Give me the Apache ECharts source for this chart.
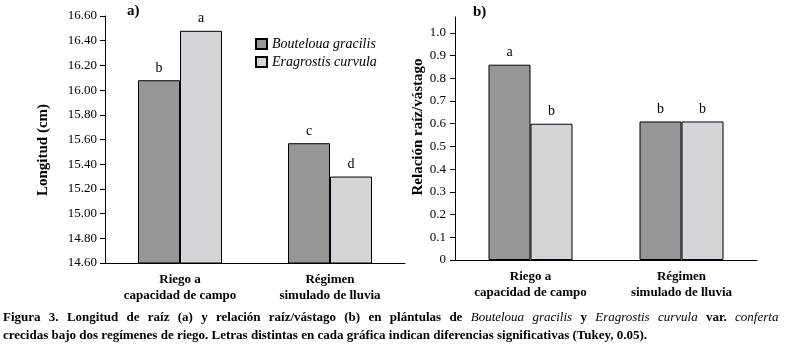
<!DOCTYPE html>
<html>
<head>
<meta charset="utf-8">
<script src="https://cdn.jsdelivr.net/npm/echarts@6/dist/echarts.min.js"></script>
<style>
  html, body { margin: 0; padding: 0; background: #fff; }
  #chart { width: 791px; height: 354px; }
</style>
</head>
<body>
<div id="chart"></div>
<script>
// categories (two irrigation regimes)
const categories = ['Riego a\ncapacidad de campo', 'Régimen\nsimulado de lluvia']
const speciesNames = ['Bouteloua gracilis', 'Eragrostis curvula']

// panel a) root length (cm)
const lengthBouteloua = [16.08, 15.57]
const lengthEragrostis = [16.48, 15.30]
const lettersLengthBouteloua = ['b', 'c']
const lettersLengthEragrostis = ['a', 'd']

// panel b) root/shoot ratio
const ratioBouteloua = [0.86, 0.61]
const ratioEragrostis = [0.60, 0.61]
const lettersRatioBouteloua = ['a', 'b']
const lettersRatioEragrostis = ['b', 'b']
const ratioTicks = [0, 0.1, 0.2, 0.3, 0.4, 0.5, 0.6, 0.7, 0.8, 0.9, 1.0]

const SERIF = '"Liberation Serif", "DejaVu Serif", serif'
const DARK = '#969696'
const LIGHT = '#d5d4d8'

const chart = echarts.init(document.getElementById('chart'))

const catAxis = (gridIndex) => ({
  type: 'category',
  gridIndex,
  data: categories,
  axisLine: { lineStyle: { color: '#000', width: 1 } },
  axisTick: { length: 5, lineStyle: { color: '#000' } },
  axisLabel: {
    color: '#000', fontFamily: SERIF, fontSize: 13, fontWeight: 'bold',
    lineHeight: 16, margin: 9, interval: 0,
  },
})

const barLabel = (letters) => ({
  show: true,
  position: 'top',
  distance: 5,
  color: '#000',
  fontFamily: SERIF,
  fontSize: 14,
  formatter: (p) => letters[p.dataIndex],
})

const bar = (name, data, axisIdx, color, letters) => ({
  name,
  type: 'bar',
  xAxisIndex: axisIdx,
  yAxisIndex: axisIdx,
  data,
  barWidth: 42,
  barGap: '0%',
  itemStyle: { color, borderColor: '#000', borderWidth: 1 },
  label: barLabel(letters),
  emphasis: { disabled: true },
})

// caption line 1 is justified in the original: widen the word spaces
const captionLine1 = [
  ['b', 'Figura 3. Longitud de raíz (a) y relación raíz/vástago (b) en plántulas de'],
  ['i', 'Bouteloua gracilis'],
  ['b', 'y'],
  ['i', 'Eragrostis curvula'],
  ['b', 'var.'],
  ['i', 'conferta'],
]
const captionRich1 = captionLine1
  .map(([s, txt]) => txt.split(' ').map((w) => `{${s}|${w}}`).join('{sp|}'))
  .join('{sp|}')

const option = {
  animation: false,
  backgroundColor: '#fff',
  grid: [
    { left: 105, top: 16, width: 300, height: 247 },
    { left: 455, top: 17, width: 302, height: 243 },
  ],
  legend: {
    data: speciesNames,
    orient: 'vertical',
    left: 255,
    top: 37,
    padding: 0,
    icon: 'rect',
    itemWidth: 11,
    itemHeight: 10,
    itemGap: 4,
    textStyle: { fontFamily: SERIF, fontSize: 14, fontStyle: 'italic', color: '#000' },
  },
  xAxis: [catAxis(0), catAxis(1)],
  yAxis: [
    {
      type: 'value',
      gridIndex: 0,
      min: 14.6,
      max: 16.6,
      interval: 0.2,
      splitLine: { show: false },
      axisLine: { show: true, lineStyle: { color: '#000' } },
      axisTick: { show: true, length: 5, lineStyle: { color: '#000' } },
      axisLabel: {
        color: '#000', fontFamily: SERIF, fontSize: 13, margin: 8,
        formatter: (v) => v.toFixed(2),
      },
    },
    {
      type: 'value',
      gridIndex: 1,
      min: 0,
      max: 1.07,
      splitLine: { show: false },
      axisLine: { show: true, lineStyle: { color: '#000' } },
      axisTick: { show: true, length: 5, lineStyle: { color: '#000' }, customValues: ratioTicks },
      axisLabel: {
        color: '#000', fontFamily: SERIF, fontSize: 13, margin: 9,
        customValues: ratioTicks,
        formatter: (v) => (v === 0 ? '0' : v.toFixed(1)),
      },
    },
  ],
  series: [
    bar(speciesNames[0], lengthBouteloua, 0, DARK, lettersLengthBouteloua),
    bar(speciesNames[1], lengthEragrostis, 0, LIGHT, lettersLengthEragrostis),
    bar(speciesNames[0], ratioBouteloua, 1, DARK, lettersRatioBouteloua),
    bar(speciesNames[1], ratioEragrostis, 1, LIGHT, lettersRatioEragrostis),
  ],
  graphic: [
    {
      type: 'text', left: 127, top: 4,
      style: { text: 'a)', font: 'bold 15px ' + SERIF, fill: '#000' },
    },
    {
      type: 'text', left: 473, top: 5,
      style: { text: 'b)', font: 'bold 15px ' + SERIF, fill: '#000' },
    },
    {
      type: 'text', x: 43, y: 150, rotation: Math.PI / 2,
      style: {
        text: 'Longitud (cm)', font: 'bold 15px ' + SERIF, fill: '#000',
        align: 'center', verticalAlign: 'middle',
      },
    },
    {
      type: 'text', x: 418, y: 127, rotation: Math.PI / 2,
      style: {
        text: 'Relación raíz/vástago', font: 'bold 15px ' + SERIF, fill: '#000',
        align: 'center', verticalAlign: 'middle',
      },
    },
    {
      type: 'text', left: 3, top: 311,
      style: {
        text: captionRich1,
        rich: {
          b: { font: 'bold 13px ' + SERIF, fill: '#000' },
          i: { font: 'italic 13px ' + SERIF, fill: '#000' },
          sp: { width: 8.3 },
        },
      },
    },
    {
      type: 'text', left: 3, top: 329,
      style: {
        text: 'crecidas bajo dos regímenes de riego. Letras distintas en cada gráfica indican diferencias significativas (Tukey, 0.05).',
        font: 'bold 13px ' + SERIF, fill: '#000',
      },
    },
  ],
}

chart.setOption(option)
</script>
</body>
</html>
